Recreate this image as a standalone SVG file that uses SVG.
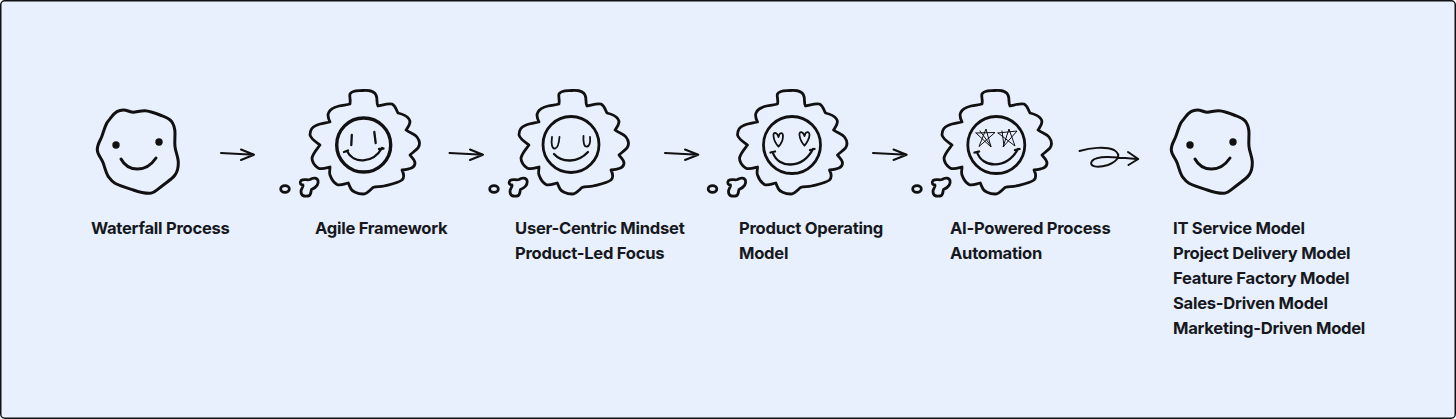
<svg xmlns="http://www.w3.org/2000/svg" width="1456" height="419" viewBox="0 0 1456 419">
<style>
.s{fill:none;stroke:#111;stroke-width:3;stroke-linecap:round;stroke-linejoin:round}
.c{stroke-width:2.800}
.f{stroke-width:2.300}
.t{stroke-width:1}
.a{fill:none;stroke:#111;stroke-width:2;stroke-linecap:round;stroke-linejoin:round}
text{font-family:Inter,"Liberation Sans",sans-serif;font-weight:650;font-size:16.6px;letter-spacing:-0.27px;fill:#16181d}
</style>
<defs>
<path id="cloud" class="s c" d="M350 104C351 100 349 96 350 94C352 90 358 91 363 90.500C370 90 375 92 376 95C378 99 376 103 378 106C383 105 388 103 392 104C396 106 396 110 398 113C402 114 407 116 409 119C412 123 408 127 406 130C410 133 415 134 417 137C420 141 420 145 418 148C415 151 412 153 410 155C412 158 415 160 415 163C415 168 410 169 402 170C404 174 405 177 402 180C398 183 392 184 384 186C380 187 376 186 373 187.500C370 190 367 194 363 194C357 194 352 191 351 189C350 187 349 185 348.300 183C344 184 340 186 337 184.500C333 182 331 178 330 175C329 172 330 170 330 167C326 168 322 170 318 168C314 165 312 161 312 158C313 153 317 149 320 145C316 142 311 139 310 135C310 130 312 127 316 125.500C320 123.500 325 123 330 122C328 118 327 115 329 112C331 108 335 107 339 106C343 105 347 105 350 104Z"/>
<path id="bubble" class="s c" d="M301 180.500C304 178.500 307 180.500 310 179.500C313 177.500 317 177.500 318 180.500C319 185 315 188 311.500 189.500C310.500 192 311.500 195.500 308 196C304 196.500 301 196 301 191.500C301 188.500 303.500 187 303 185C301 185 299 183 301 180.500Z"/>
<ellipse id="dot" class="s c" cx="285" cy="189" rx="4.300" ry="3.300"/>
<path id="blob" class="s" d="M111.700 116.700C115 112 119 110 123.300 110C127 110 130 112 133.300 112.300C137 112 141 110.500 145 110.700C150 111 155 113 160 115C165 117 169 118 171.700 121.700C174 125 175 129 175 133.300C175 138 174.500 142 175 146.700C175.500 152 178 156 178.300 161.700C178.500 167 178 171 175 175C172 179 167 182 163.300 185C159 188 155 193 150 193.300C144 193.500 139 192 133.300 190C127 188 120 186 115 183.300C112 181.500 110 179 108.300 176.700C105.500 172 105 168 103.300 163.300C101.500 158 97.500 155 97.300 150C97 145 100 141 101.700 136.700C103.500 132 104.500 127.500 106.700 123.300C108 121 110 119 111.700 116.700Z"/>
</defs>
<rect x="0.750" y="0.750" width="1454.500" height="417.500" rx="4" fill="#e8f0fe" stroke="#111" stroke-width="1.500"/>

<g id="connectors">
<path class="a" d="M221 153L254 154.700M241 149.500L254 154.700L241 160"/>
<path class="a" d="M449.500 153L483 154.700M470 149.500L483 154.700L470 160"/>
<path class="a" d="M665 153L698.300 154.700M685 149.500L698.300 154.700L685 160"/>
<path class="a" d="M873 153L906.700 154.700M893.500 149.500L906.700 154.700L893.500 160"/>
<path class="a" d="M1079.500 151C1090 148 1105 146 1114 150C1122 155 1118 161 1108 165C1098 168 1088 167 1092 161C1097 155 1115 157 1138 159M1128 152L1138.300 159L1128.500 165"/>
</g>

<g id="node-waterfall">
<use href="#blob"/>
<circle cx="116" cy="145" r="3.700" fill="#111"/><circle cx="159" cy="142" r="3.700" fill="#111"/>
<path class="s" d="M121 159C128 172 146 173 156 158"/>
<text x="91" y="234">Waterfall Process</text>
</g>

<g id="node-agile">
<use href="#cloud"/><use href="#bubble"/><use href="#dot"/>
<circle class="s" cx="363.700" cy="145" r="27" style="stroke-width:3.400"/>
<path class="s f" d="M351.800 135L351.300 145M374.300 132L375.700 143M347 151C353 164 373 164 382 148M344 152L348 150.500M379 149L383.500 148.500"/>
<text x="315" y="234">Agile Framework</text>
</g>

<g id="node-user-centric">
<use href="#cloud" x="209"/><use href="#bubble" x="209"/><use href="#dot" x="209"/>
<circle class="s c" cx="571" cy="144.500" r="28"/>
<path class="s f" d="M552 137C551 144 552 149 555 148.500C558 148 559 143 559.500 137M583.500 136C583 142 584 147 587 146.500C590 146 590.500 142 590 137" style="stroke-width:1.800"/>
<path class="s f" d="M554 154C562 163 578 163 588 152"/>
<text x="515" y="234">User-Centric Mindset</text>
<text x="515" y="259">Product-Led Focus</text>
</g>

<g id="node-product">
<use href="#cloud" x="427.500"/><use href="#bubble" x="427.500"/><use href="#dot" x="427.500"/>
<circle class="s c" cx="792" cy="145" r="28.500"/>
<path class="s" d="M778.500 137C777 132 773 131.500 773.500 136C774 141 776 144 778.500 146.500C781 144 783 140 783 136C783 132 779.500 132 778.500 137ZM804.500 136C803 131 799 131 799.500 135C800 140 802 143 804.500 145.500C807 143 809.500 138 809.500 135C809.500 131 805.500 131 804.500 136Z" style="stroke-width:1.800"/>
<path class="s f" d="M773 153C778 168 802 170 813 149M770.500 152.500L775 151.500M810 150L814.500 149"/>
<text x="739" y="234">Product Operating</text>
<text x="739" y="259">Model</text>
</g>

<g id="node-ai">
<use href="#cloud" x="632"/><use href="#bubble" x="632"/><use href="#dot" x="632"/>
<circle class="s c" cx="996.300" cy="145" r="28.500"/>
<path class="s t" d="M976 133L995 132.500L979 146.500L986 129L991 147L976 133M980 131L991 146M998 133L1017 131L1003 147L1009 129L1015 146L998 133M1002 131L1004 146"/>
<path class="s f" d="M977 152C982 168 1006 170 1018 149M974.500 152.500L979 151.500M1015 150L1019.500 149"/>
<text x="950" y="234">AI-Powered Process</text>
<text x="950" y="259">Automation</text>
</g>

<g id="node-service">
<use href="#blob" x="1074"/>
<circle cx="1190" cy="145" r="3.700" fill="#111"/><circle cx="1233" cy="142" r="3.700" fill="#111"/>
<path class="s" d="M1195 159C1202 172 1220 173 1230 158"/>
<text x="1173" y="234">IT Service Model</text>
<text x="1173" y="259">Project Delivery Model</text>
<text x="1173" y="284">Feature Factory Model</text>
<text x="1173" y="309">Sales-Driven Model</text>
<text x="1173" y="334">Marketing-Driven Model</text>
</g>
</svg>
